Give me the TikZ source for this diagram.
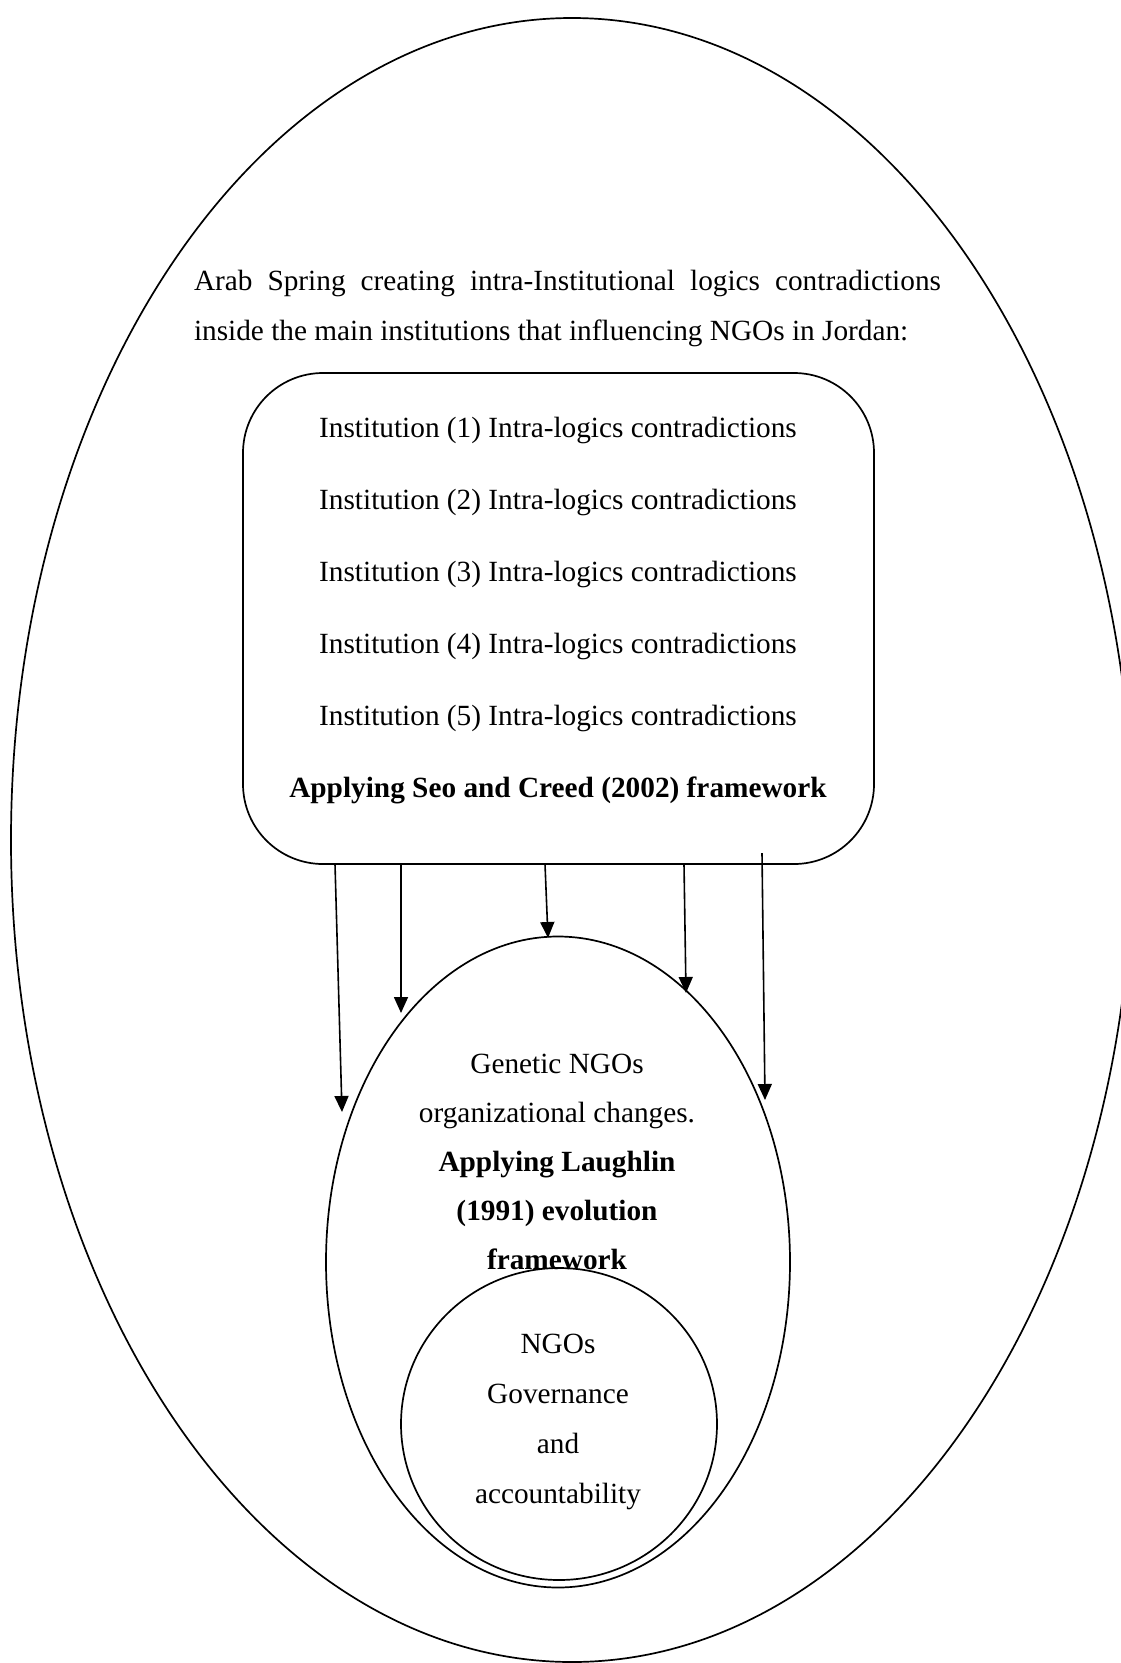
\documentclass[tikz,border=0pt]{standalone}
\usepackage{fontspec}
\setmainfont{Liberation Serif}
\usetikzlibrary{shapes.geometric,arrows.meta}

\tikzset{
  outline/.style={draw=black, line width=1.7pt, inner sep=0pt},
  label/.style={inner sep=0pt, align=center, font=\fontsize{29.3pt}{72pt}\selectfont},
  flow/.style={draw=black, line width=1.6pt, -{Triangle[length=16pt,width=14pt]}}
}

\begin{document}
\begin{tikzpicture}[x=1pt,y=-1pt]
\useasboundingbox (0,0) rectangle (1121,1663);

% outer environment
\node (outer) [outline, ellipse, minimum width=1122pt, minimum height=1644pt] at (572,840) {};

% introduction text: first line justified to full width, second line flush left
\node (intro) [inner sep=0pt, text width=747pt,
  font=\fontsize{29.3pt}{50pt}\selectfont] at (567.5,308)
  {\hbox to 747pt{Arab\hfill Spring\hfill creating\hfill intra-Institutional\hfill logics\hfill contradictions}
   \hbox{\spaceskip=7.3pt inside the main institutions that influencing NGOs in Jordan:}};

% institutions box
\node (inst) [outline, rounded corners=80pt, minimum width=631pt, minimum height=491pt] at (558.5,618.5) {};
\node (instText) [label] at (558,611)
  {Institution (1) Intra-logics contradictions\\
   Institution (2) Intra-logics contradictions\\
   Institution (3) Intra-logics contradictions\\
   Institution (4) Intra-logics contradictions\\
   Institution (5) Intra-logics contradictions\\
   \textbf{Applying Seo and Creed (2002) framework}};

% organizational changes
\node (gen) [outline, ellipse, minimum width=464pt, minimum height=651pt] at (558,1262) {};
\node (genText) [label, font=\fontsize{29.3pt}{49pt}\selectfont] at (557,1162)
  {Genetic NGOs\\
   organizational changes.\\
   \textbf{Applying Laughlin}\\
   \textbf{(1991) evolution}\\
   \textbf{framework}};

% governance core
\node (govText) [label, font=\fontsize{29.3pt}{50pt}\selectfont] at (558,1422)
  {NGOs\\ Governance\\ and\\ accountability};
\node (gov) [outline, ellipse, minimum width=316pt, minimum height=312pt] at (559,1424) {};

% arrow ends
\coordinate (s1) at (335,864);  \coordinate (e1) at (342,1112);
\coordinate (s2) at (401,864);  \coordinate (e2) at (401,1013);
\coordinate (s3) at (545,864);  \coordinate (e3) at (548,938);
\coordinate (s4) at (684,864);  \coordinate (e4) at (686,993);
\coordinate (s5) at (762,853);  \coordinate (e5) at (765,1100);

\draw[flow] (s1) -- (e1);
\draw[flow] (s2) -- (e2);
\draw[flow] (s3) -- (e3);
\draw[flow] (s4) -- (e4);
\draw[flow] (s5) -- (e5);
\end{tikzpicture}
\end{document}
